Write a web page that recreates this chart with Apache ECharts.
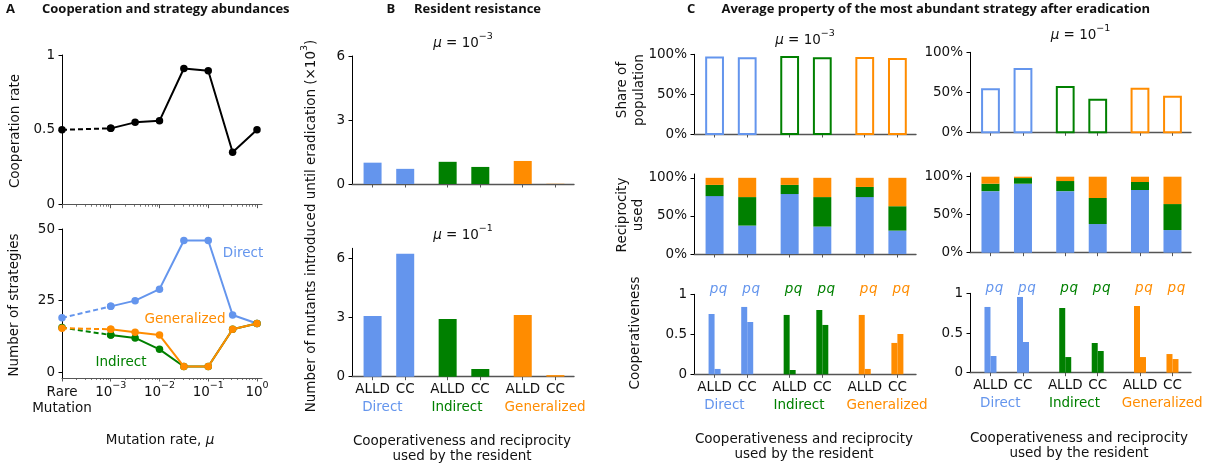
<!DOCTYPE html>
<html><head><meta charset="utf-8">
<script src="https://cdn.jsdelivr.net/npm/echarts@6/dist/echarts.min.js"></script>
<style>html,body{margin:0;padding:0;background:#fff}#c{width:1211px;height:467px}</style>
</head><body><div id="c"></div>
<script>
// ================= DATA =================
// Panel A: mutation rate positions (log10 mu), "Rare mutation" drawn one decade left of 10^-3
const mutationPos = [-4, -3, -2.5, -2, -1.5, -1, -0.5, 0];
const mutationTickPos = [-4, -3, -2, -1, 0];
const mutationTickLabels = ['Rare\nMutation', '10^−3', '10^−2', '10^−1', '10^0'];
const cooperationRate = [0.50, 0.51, 0.55, 0.56, 0.91, 0.895, 0.35, 0.50];
const nDirect = [19, 23, 25, 29, 46, 46, 20, 17];
const nIndirect = [15.6, 13, 12, 8, 2, 2, 15, 17];
const nGeneralized = [15.4, 15, 14, 13, 2, 2, 15, 17];

// Panels B and C: residents (ALLD / CC for each reciprocity type)
const groupNames = ['Direct', 'Indirect', 'Generalized'];
const barPos = [0, 1, 2.3, 3.3, 4.6, 5.6];
const barLabels = ['ALLD', 'CC', 'ALLD', 'CC', 'ALLD', 'CC'];
const barGroup = [0, 0, 1, 1, 2, 2];

// B: number of mutants introduced until eradication (x10^3)
const resistMu3 = [1.00, 0.71, 1.04, 0.80, 1.08, 0.01];
const resistMu1 = [3.07, 6.22, 2.92, 0.39, 3.12, 0.08];

// C: share of population of most abundant strategy
const shareMu3 = [0.96, 0.95, 0.966, 0.95, 0.953, 0.94];
const shareMu1 = [0.538, 0.79, 0.566, 0.408, 0.545, 0.445];

// C: reciprocity used (fractions: direct / indirect / generalized)
const recipDirectMu3 = [0.76, 0.373, 0.787, 0.36, 0.747, 0.307];
const recipIndirectMu3 = [0.147, 0.374, 0.12, 0.387, 0.133, 0.32];
const recipGeneralizedMu3 = [0.093, 0.253, 0.093, 0.253, 0.12, 0.373];
const recipDirectMu1 = [0.81, 0.908, 0.81, 0.377, 0.825, 0.298];
const recipIndirectMu1 = [0.098, 0.074, 0.133, 0.343, 0.105, 0.342];
const recipGeneralizedMu1 = [0.092, 0.018, 0.057, 0.28, 0.07, 0.36];

// C: cooperativeness (p and q)
const coopPMu3 = [0.754, 0.842, 0.742, 0.804, 0.742, 0.392];
const coopQMu3 = [0.067, 0.654, 0.054, 0.617, 0.067, 0.504];
const coopPMu1 = [0.828, 0.954, 0.815, 0.374, 0.84, 0.235];
const coopQMu1 = [0.21, 0.387, 0.197, 0.273, 0.197, 0.172];

// ================= STYLE / LAYOUT =================
const FONT = 'DejaVu Sans';
const TFONT = 'Open Sans';
const TXT = '#111';
const FS = 13.5;
const groupColors = ['#6495ED', '#008000', '#FF8C00'];
const XAXC = '#555';

const boxes = [
  {left: 62, top: 55, width: 200, height: 149.7},      // 0 A top
  {left: 62, top: 229, width: 200, height: 149},       // 1 A bottom
  {left: 352, top: 56, width: 222, height: 128},       // 2 B top
  {left: 352, top: 248.3, width: 222, height: 128.4},  // 3 B bottom
  {left: 694, top: 54.3, width: 222, height: 79.7},    // 4 C left share
  {left: 694, top: 174, width: 222, height: 80},       // 5 C left recip
  {left: 694, top: 294.3, width: 222, height: 80},     // 6 C left coop
  {left: 970, top: 52.3, width: 221, height: 80},      // 7 C right share
  {left: 970, top: 172.9, width: 221, height: 79.8},   // 8 C right recip
  {left: 970, top: 293.3, width: 221, height: 79.4}    // 9 C right coop
];
const grids = boxes.map(b => ({left: b.left, top: b.top, width: b.width, height: b.height,
  containLabel: false, outerBoundsMode: 'none', show: false}));

const labelBase = {color: TXT, fontFamily: FONT, fontSize: FS};
const richSup = {
  n: {color: TXT, fontFamily: FONT, fontSize: FS, lineHeight: 20},
  m: {color: TXT, fontFamily: FONT, fontSize: FS, lineHeight: 12},
  s: {color: TXT, fontFamily: FONT, fontSize: 9.5, height: 7, verticalAlign: 'top'}
};
function fmtSup(str) {
  if (str.indexOf('\n') >= 0) { const p = str.split('\n'); return '{n|' + p[0] + '}\n{m|' + p[1] + '}'; }
  if (str.indexOf('^') >= 0) { const p = str.split('^'); return '{n|' + p[0] + '}{s|' + p[1] + '}'; }
  return '{n|' + str + '}';
}
function idxOf(arr, v) { return arr.findIndex(t => Math.abs(t - v) < 1e-6); }

const xAxes = [];
const yAxes = [];
// A
[0, 1].forEach(gi => {
  xAxes.push({gridIndex: gi, type: 'value', position: 'bottom', min: -4, max: 0.1026,
    axisLine: {show: true, onZero: false, lineStyle: {color: XAXC, width: 1.2}},
    axisTick: {show: true, length: 3.5, customValues: mutationTickPos, lineStyle: {color: XAXC, width: 1}},
    axisLabel: gi === 1 ? {show: true, customValues: mutationTickPos, margin: 4, ...labelBase, rich: richSup,
      formatter: v => fmtSup(mutationTickLabels[idxOf(mutationTickPos, v)])} : {show: false},
    splitLine: {show: false}});
});
// B, C
for (let gi = 2; gi < 10; gi++) {
  const showLab = (gi === 3 || gi === 6 || gi === 9);
  xAxes.push({gridIndex: gi, type: 'value', position: 'bottom', min: -0.63, max: 6.17,
    axisLine: {show: true, onZero: false, lineStyle: {color: XAXC, width: 1.4}},
    axisTick: {show: true, length: 3.5, customValues: barPos, lineStyle: {color: XAXC, width: 1}},
    axisLabel: showLab ? {show: true, customValues: barPos, margin: 6, ...labelBase,
      formatter: v => barLabels[idxOf(barPos, v)]} : {show: false},
    splitLine: {show: false}});
}
// minor ticks for log axes in A
const minorVals = [];
for (let d = -4; d < 0; d++) for (let k = 2; k <= 9; k++) minorVals.push(d + Math.log10(k));
[0, 1].forEach(gi => {
  xAxes.push({gridIndex: gi, type: 'value', position: 'bottom', offset: 0, min: -4, max: 0.1026,
    axisLine: {show: false, onZero: false}, axisLabel: {show: false}, splitLine: {show: false},
    axisTick: {show: true, length: 2, customValues: minorVals, lineStyle: {color: XAXC, width: 0.8}}});
});

function yAx(gi, min, max, ticks, fmt) {
  return {gridIndex: gi, type: 'value', position: 'left', min, max,
    axisLine: {show: true, onZero: false, lineStyle: {color: '#000', width: 1}},
    axisTick: {show: true, length: 3.5, customValues: ticks, lineStyle: {color: '#000', width: 1}},
    axisLabel: {show: true, customValues: ticks, margin: 7, ...labelBase, formatter: fmt || (v => String(v))},
    splitLine: {show: false}};
}
const pct = v => Math.round(v * 100) + '%';
yAxes.push(yAx(0, 0, 1, [0, 0.5, 1]));
yAxes.push(yAx(1, -2, 50, [0, 25, 50]));
yAxes.push(yAx(2, 0, 6, [0, 3, 6]));
yAxes.push(yAx(3, 0, 6.5, [0, 3, 6]));
yAxes.push(yAx(4, 0, 1, [0, 0.5, 1], pct));
yAxes.push(yAx(5, 0, 1.05, [0, 0.5, 1], pct));
yAxes.push(yAx(6, 0, 1, [0, 0.5, 1]));
yAxes.push(yAx(7, 0, 1, [0, 0.5, 1], pct));
yAxes.push(yAx(8, 0, 1.05, [0, 0.5, 1], pct));
yAxes.push(yAx(9, 0, 1, [0, 0.5, 1]));

// ================= SERIES =================
const series = [];
function lineSeries(vals, color, gi, z) {
  const pts = mutationPos.map((x, i) => [x, vals[i]]);
  const common = {type: 'line', xAxisIndex: gi, yAxisIndex: gi, symbol: 'circle', symbolSize: 7.5,
    itemStyle: {color, borderWidth: 0}, silent: true, z, animation: false};
  series.push({...common, data: pts.slice(0, 2), lineStyle: {color, width: 2, type: [5, 3]}});
  series.push({...common, data: pts.slice(1), lineStyle: {color, width: 2, type: 'solid'}});
}
lineSeries(cooperationRate, '#000', 0, 2);
lineSeries(nDirect, groupColors[0], 1, 2);
lineSeries(nIndirect, groupColors[1], 1, 3);
lineSeries(nGeneralized, groupColors[2], 1, 4);

function barSeries(gi, data, opt) {
  series.push({type: 'custom', xAxisIndex: gi, yAxisIndex: gi, silent: true, animation: false,
    data, dimensions: ['x', 'y0', 'y1', 'c'], encode: {x: 0, y: [1, 2]},
    renderItem: (params, api) => {
      const x = api.value(0), y0 = api.value(1), y1 = api.value(2), col = groupColors[api.value(3)];
      const p0 = api.coord([x, y0]), p1 = api.coord([x, y1]);
      const w = opt.width, cx = p0[0] + (opt.offset || 0);
      return {type: 'rect', shape: {x: cx - w / 2, y: p1[1], width: w, height: p0[1] - p1[1]},
        style: opt.hollow ? {fill: '#fff', stroke: col, lineWidth: 2} : {fill: col}};
    }});
}
const simple = vals => barPos.map((x, i) => [x, 0, vals[i], barGroup[i]]);
barSeries(2, simple(resistMu3), {width: 18});
barSeries(3, simple(resistMu1), {width: 18});
barSeries(4, simple(shareMu3), {width: 16.8, hollow: true});
barSeries(7, simple(shareMu1), {width: 16.8, hollow: true});
function stacked(gi, d, ind, gen) {
  barSeries(gi, barPos.map((x, i) => [x, 0, d[i], 0]), {width: 18});
  barSeries(gi, barPos.map((x, i) => [x, d[i], d[i] + ind[i], 1]), {width: 18});
  barSeries(gi, barPos.map((x, i) => [x, d[i] + ind[i], d[i] + ind[i] + gen[i], 2]), {width: 18});
}
stacked(5, recipDirectMu3, recipIndirectMu3, recipGeneralizedMu3);
stacked(8, recipDirectMu1, recipIndirectMu1, recipGeneralizedMu1);
barSeries(6, simple(coopPMu3), {width: 6, offset: -3});
barSeries(6, simple(coopQMu3), {width: 6, offset: 3});
barSeries(9, simple(coopPMu1), {width: 6, offset: -3});
barSeries(9, simple(coopQMu1), {width: 6, offset: 3});

const chart = echarts.init(document.getElementById('c'), null, {renderer: 'canvas'});
chart.setOption({animation: false, backgroundColor: '#fff', grid: grids, xAxis: xAxes, yAxis: yAxes, series});

// ================= TEXT ANNOTATIONS =================
function T(text, x, y, o) {
  o = o || {};
  return {type: 'text', x, y, rotation: o.rot || 0, silent: true, z: 10,
    style: {text, fill: o.color || TXT, fontFamily: o.family || FONT, fontSize: o.size || FS,
      fontWeight: o.weight || 'normal', fontStyle: o.fstyle || 'normal',
      align: o.align || 'center', verticalAlign: o.va || 'middle',
      lineHeight: o.lh || undefined, rich: o.rich || undefined}};
}
const R = Math.PI / 2;
const supRich = (fill) => ({
  i: {fill: fill || TXT, fontFamily: FONT, fontSize: FS, fontStyle: 'italic', lineHeight: 20},
  s: {fill: fill || TXT, fontFamily: FONT, fontSize: 9.5, height: 7, verticalAlign: 'top'}
});
const G = [];
// panel titles
const tOpt = {family: TFONT, weight: 'bold', size: 13, align: 'left'};
G.push(T('A', 6, 9, tOpt));
G.push(T('Cooperation and strategy abundances', 42, 9, tOpt));
G.push(T('B', 386.5, 9, tOpt));
G.push(T('Resident resistance', 414, 9, tOpt));
G.push(T('C', 687, 9, tOpt));
G.push(T('Average property of the most abundant strategy after eradication', 721.5, 9, tOpt));

// mu titles
function muTitle(gi, exp, yPix) {
  const b = boxes[gi];
  G.push(T('{i|μ} = 10{s|' + exp + '}', b.left + b.width / 2, yPix, {rich: supRich(), lh: 20}));
}
muTitle(2, '−3', 43);
muTitle(3, '−1', 235);
muTitle(4, '−3', 40);
muTitle(7, '−1', 35);

// axis names
G.push(T('Cooperation rate', 15, 131, {rot: R}));
G.push(T('Number of strategies', 14, 305, {rot: R}));
G.push(T('Mutation rate, {i|μ}', 160, 440, {rich: supRich(), lh: 20}));
G.push(T('Number of mutants introduced until eradication (×10{s|3})', 311.5, 226, {rot: R, rich: supRich(), lh: 20}));
G.push(T('Cooperativeness and reciprocity\nused by the resident', 462, 449, {lh: 15}));
G.push(T('Cooperativeness and reciprocity\nused by the resident', 804, 447, {lh: 15}));
G.push(T('Cooperativeness and reciprocity\nused by the resident', 1079, 445.5, {lh: 15}));
G.push(T('Share of\npopulation', 630.5, 90, {rot: R, lh: 17}));
G.push(T('Reciprocity\nused', 630.5, 215, {rot: R, lh: 16}));
G.push(T('Cooperativeness', 635.8, 333, {rot: R}));

// panel A series labels
G.push(T('Direct', 243, 253, {color: groupColors[0]}));
G.push(T('Generalized', 185, 319, {color: groupColors[2]}));
G.push(T('Indirect', 121, 362, {color: groupColors[1]}));

// group labels under B / C bottom axes and pq labels
const groupOffsets = [-6.5, -7, 6];
[3, 6, 9].forEach(gi => {
  const axisY = chart.convertToPixel({gridIndex: gi}, [0, 0])[1];
  groupNames.forEach((name, g) => {
    const cx = chart.convertToPixel({gridIndex: gi}, [(barPos[2 * g] + barPos[2 * g + 1]) / 2, 0])[0];
    G.push(T(name, cx + groupOffsets[g], axisY + 31, {color: groupColors[g]}));
  });
});
[6, 9].forEach(gi => {
  barPos.forEach((x, i) => {
    const p = chart.convertToPixel({gridIndex: gi}, [x, 1]);
    const col = groupColors[barGroup[i]];
    G.push(T('p', p[0] - 0.6, p[1] - 5, {color: col, fstyle: 'italic'}));
    G.push(T('q', p[0] + 8.5, p[1] - 5, {color: col, fstyle: 'italic'}));
  });
});
chart.setOption({graphic: {elements: G}});
</script>
</body></html>
